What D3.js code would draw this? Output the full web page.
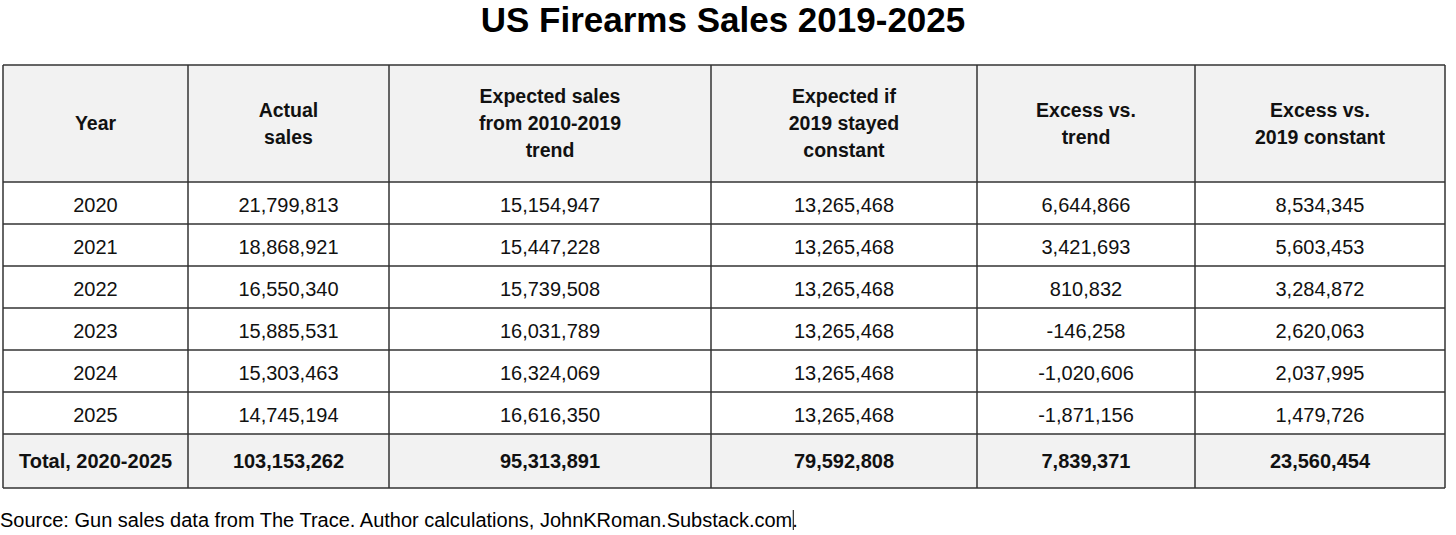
<!DOCTYPE html>
<html>
<head>
<meta charset="utf-8">
<script src="https://cdn.jsdelivr.net/npm/d3@7"></script>
<style>
  body { margin: 0; background: #fff; }
  svg { display: block; font-family: "Liberation Sans", Arial, sans-serif; }
</style>
</head>
<body>
<div id="chart"></div>
<script>
// table data
var headers = [
  ["Year"],
  ["Actual", "sales"],
  ["Expected sales", "from 2010-2019", "trend"],
  ["Expected if", "2019 stayed", "constant"],
  ["Excess vs.", "trend"],
  ["Excess vs.", "2019 constant"]
];
var years = ["2020", "2021", "2022", "2023", "2024", "2025"];
var actualSales = [21799813, 18868921, 16550340, 15885531, 15303463, 14745194];
var expectedTrend = [15154947, 15447228, 15739508, 16031789, 16324069, 16616350];
var expectedConstant = [13265468, 13265468, 13265468, 13265468, 13265468, 13265468];
var excessTrend = [6644866, 3421693, 810832, -146258, -1020606, -1871156];
var excessConstant = [8534345, 5603453, 3284872, 2620063, 2037995, 1479726];
var totalLabel = "Total, 2020-2025";
var totals = [103153262, 95313891, 79592808, 7839371, 23560454];

var width = 1456, height = 535;
var fmt = d3.formatLocale({ decimal: ".", thousands: ",", grouping: [3], currency: ["$", ""], minus: "-" }).format(",");

// column layout (relative widths)
var colWidths = [185, 201, 322, 266, 218, 250];
var tableLeft = 3, tableTop = 65, headH = 117, rowH = 42, totalH = 54;
var fs = 20;
var edges = [tableLeft];
colWidths.forEach(function(w) { edges.push(edges[edges.length - 1] + w); });

var x = d3.scaleOrdinal().domain(d3.range(colWidths.length)).range(edges.slice(0, -1));
var y = d3.scaleBand().domain(years).range([tableTop + headH, tableTop + headH + rowH * years.length]);
var tableRight = edges[edges.length - 1];
var totalTop = tableTop + headH + rowH * years.length;

var svg = d3.select("#chart").append("svg")
    .attr("width", width)
    .attr("height", height);

svg.append("text")
    .attr("x", 723)
    .attr("y", 32)
    .attr("text-anchor", "middle")
    .attr("font-size", 35)
    .attr("font-weight", "bold")
    .attr("fill", "#000")
    .text("US Firearms Sales 2019-2025");

// backgrounds
svg.append("rect")
    .attr("x", tableLeft).attr("y", tableTop)
    .attr("width", tableRight - tableLeft).attr("height", headH)
    .attr("fill", "#f2f2f2");
svg.append("rect")
    .attr("x", tableLeft).attr("y", totalTop)
    .attr("width", tableRight - tableLeft).attr("height", totalH)
    .attr("fill", "#f2f2f2");

// header text
headers.forEach(function(lines, i) {
  var cx = x(i) + colWidths[i] / 2;
  var lh = 27;
  var startY = tableTop + headH / 2 - (lines.length - 1) * lh / 2;
  var t = svg.append("text")
      .attr("text-anchor", "middle")
      .attr("font-size", 19.5)
      .attr("font-weight", "bold")
      .attr("fill", "#111");
  lines.forEach(function(l, j) {
    t.append("tspan")
        .attr("x", cx)
        .attr("y", startY + j * lh)
        .attr("dy", "0.35em")
        .text(l);
  });
});

// body rows
var rows = years.map(function(yr, i) {
  return [yr, fmt(actualSales[i]), fmt(expectedTrend[i]), fmt(expectedConstant[i]),
          fmt(excessTrend[i]), fmt(excessConstant[i])];
});

var row = svg.selectAll(".row")
    .data(rows)
    .enter().append("g")
    .attr("class", "row")
    .attr("transform", function(d) { return "translate(0," + y(d[0]) + ")"; });

row.selectAll("text")
    .data(function(d) { return d; })
    .enter().append("text")
    .attr("x", function(d, i) { return x(i) + colWidths[i] / 2; })
    .attr("y", y.bandwidth() / 2 + 2)
    .attr("dy", "0.35em")
    .attr("text-anchor", "middle")
    .attr("font-size", fs)
    .attr("fill", "#111")
    .text(function(d) { return d; });

// total row
var totalRow = [totalLabel].concat(totals.map(fmt));
svg.selectAll(".total")
    .data(totalRow)
    .enter().append("text")
    .attr("class", "total")
    .attr("x", function(d, i) { return x(i) + colWidths[i] / 2; })
    .attr("y", totalTop + totalH / 2)
    .attr("dy", "0.35em")
    .attr("text-anchor", "middle")
    .attr("font-size", fs)
    .attr("font-weight", "bold")
    .attr("fill", "#111")
    .text(function(d) { return d; });

// grid lines
var hLines = [tableTop, tableTop + headH].concat(years.map(function(yr) { return y(yr) + rowH; }), [totalTop + totalH]);
svg.selectAll(".hline")
    .data(hLines)
    .enter().append("line")
    .attr("x1", tableLeft).attr("x2", tableRight)
    .attr("y1", function(d) { return d; }).attr("y2", function(d) { return d; })
    .attr("stroke", "#333")
    .attr("stroke-width", 1.5);

svg.selectAll(".vline")
    .data(edges)
    .enter().append("line")
    .attr("x1", function(d) { return d; }).attr("x2", function(d) { return d; })
    .attr("y1", tableTop).attr("y2", totalTop + totalH)
    .attr("stroke", "#333")
    .attr("stroke-width", 1.5);

var source = svg.append("text")
    .attr("x", 0)
    .attr("y", 527)
    .attr("font-size", 20)
    .attr("fill", "#000");
source.append("tspan").text("Source: Gun sales data from The Trace. Author calculations, JohnKRoman.Substack.com");
source.append("tspan").text(".");

// text cursor left in the source line
var comEnd = source.node().getSubStringLength(0, source.text().length - 1);
svg.append("line")
    .attr("x1", comEnd + 1).attr("x2", comEnd + 1)
    .attr("y1", 510).attr("y2", 530)
    .attr("stroke", "#000")
    .attr("stroke-width", 1);
</script>
</body>
</html>
